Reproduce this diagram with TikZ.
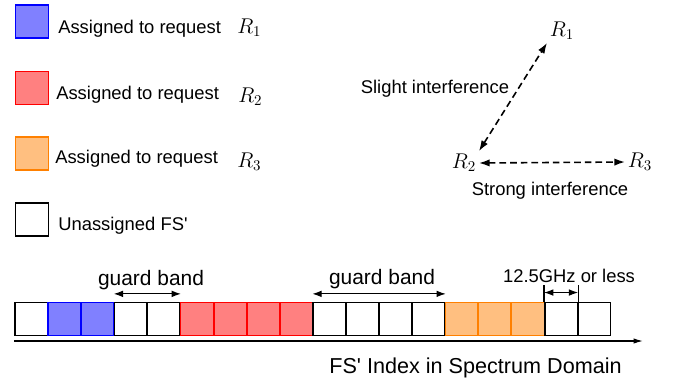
\RequirePackage{fix-cm}
\documentclass[tikz,border=0pt]{standalone}
\usepackage{amsmath}
\usepackage{fontspec}
\setmainfont{Liberation Sans}
\usepackage{tikz}
\usetikzlibrary{arrows.meta}
\tikzset{
    slot/.style = {draw, line width=1.2pt, rectangle, minimum size=24.5pt, inner sep=0pt},
    slot-free/.style = {draw=black, fill=white},
    slot-blue/.style = {draw=blue, fill=blue!50},
    slot-red/.style = {draw=red, fill=red!50},
    slot-orange/.style = {draw=orange, fill=orange!50},
    legend-text/.style = {anchor=base west, inner sep=0pt, font=\fontsize{13.8}{16}\selectfont},
    legend-req/.style = {anchor=base west, inner sep=0pt, font=\fontsize{16}{18}\selectfont},
    req/.style = {inner sep=2pt, font=\fontsize{16}{18}\selectfont},
    label-text/.style = {anchor=base, inner sep=0pt, font=\fontsize{13.8}{16}\selectfont},
    band-text/.style = {anchor=base, inner sep=0pt, font=\fontsize{15.7}{18}\selectfont},
    interference/.style = {<->, >={Latex[length=8pt,width=5.5pt]}, line width=1.2pt, dash pattern=on 5pt off 3pt},
    band/.style = {<->, >={Latex[length=7pt,width=5pt]}, line width=0.9pt},
}

\begin{document}
\begin{tikzpicture}[x=0.75pt, y=-0.75pt]
\useasboundingbox (0,0) rectangle (678,379);

% legend
\node[slot, slot-blue] (key1) at (32,21.5) {};
\node[slot, slot-red] (key2) at (32,88) {};
\node[slot, slot-orange] (key3) at (32,153.5) {};
\node[slot, slot-free] (key4) at (32,219.5) {};
\node[legend-text] (txt1) at (58,33) {Assigned to request};
\node[legend-text] (txt2) at (56,99) {Assigned to request};
\node[legend-text] (txt3) at (55,163) {Assigned to request};
\node[legend-text] (txt4) at (58,230) {Unassigned FS\textquotesingle};
\node[legend-req] (req1) at (237,33) {$R_1$};
\node[legend-req] (req2) at (238,102) {$R_2$};
\node[legend-req] (req3) at (237,167) {$R_3$};

% requests and interference
\node[req] (r1) at (562,31) {$R_1$};
\node[req] (r2) at (464,163) {$R_2$};
\node[req] (r3) at (640,162) {$R_3$};
\draw[interference] (r2.north east) -- (r1.south west);
\draw[interference] (r2.east) -- (r3.west);
\node[label-text] (slight) at (435,93) {Slight interference};
\node[label-text] (strong) at (550,195) {Strong interference};

% spectrum slots
\foreach \c [count=\i from 0] in {free,blue,blue,free,free,red,red,red,red,free,free,free,free,orange,orange,orange,free,free}
    \node[slot, slot-\c] (s\i) at (31.5+33.1*\i,319) {};

\coordinate (axis-end) at (643,341);
\draw[-{Latex[length=7pt,width=4pt]}, line width=0.9pt] (s0.south west |- axis-end) -- (axis-end);
\node[anchor=base, inner sep=0pt, font=\fontsize{16.2}{18}\selectfont] (axis-label) at (475.5,373) {FS\textquotesingle\ Index in Spectrum Domain};

% guard bands
\draw[band] ([yshift=6pt]s3.north west) -- ([yshift=6pt]s4.north east);
\node[band-text] (gb1) at (151,285) {guard band};
\draw[band] ([yshift=6pt]s9.north west) -- ([yshift=6pt]s12.north east);
\node[band-text] (gb2) at (382,284) {guard band};

% slot width
\draw[line width=0.9pt] (s16.north west) -- ++(0,-17);
\draw[line width=0.9pt] (s16.north east) -- ++(0,-17);
\draw[band] ([yshift=7pt]s16.north west) -- ([yshift=7pt]s16.north east);
\node[label-text] (width-label) at (569,282) {12.5GHz or less};
\end{tikzpicture}
\end{document}
